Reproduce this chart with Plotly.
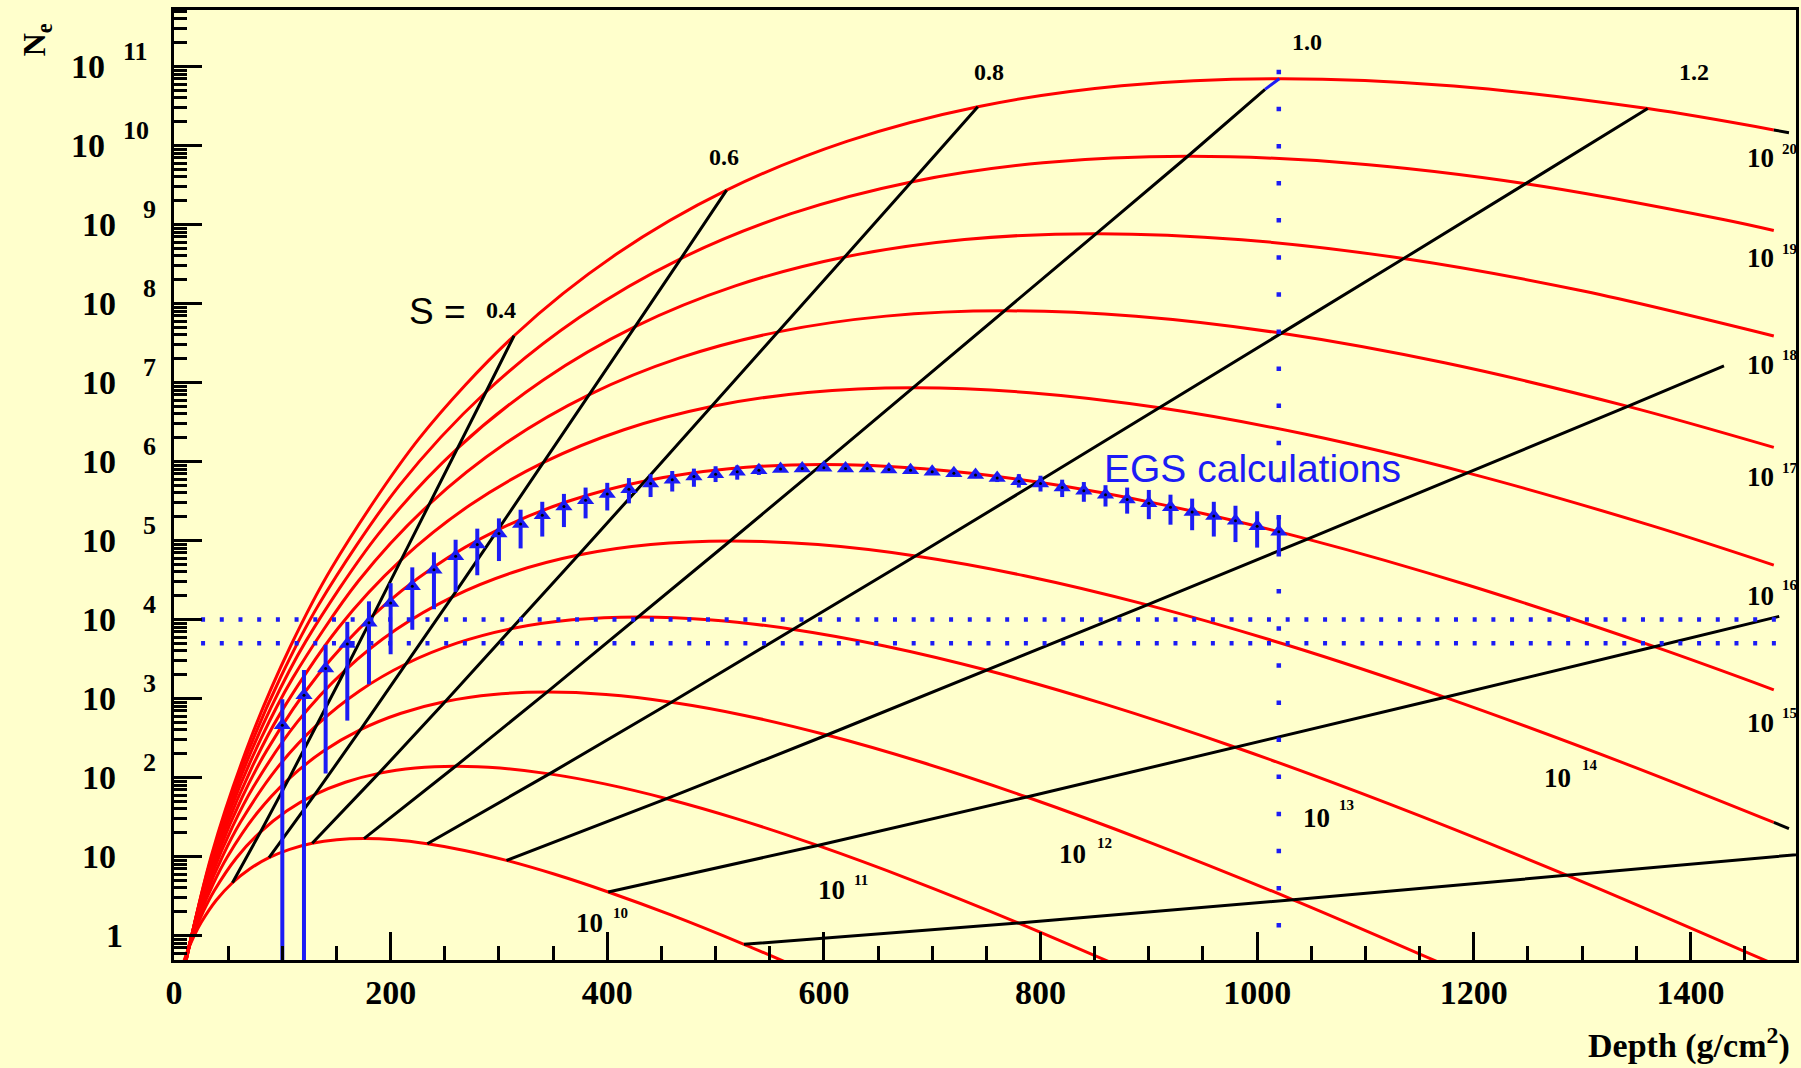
import plotly.graph_objects as go

# ---------------- data ----------------
# Shower size curves (one per primary energy): depth in g/cm^2, log10(Ne)
depth_e10 = [1.17, 5.95, 12.10, 18.46, 25.06, 38.98, 53.97, 70.16, 87.71, 106.77, 127.57, 150.35, 175.41, 203.11, 233.88, 268.27, 306.97, 350.82, 400.94, 458.77, 526.23, 605.96]
logne_e10 = [-0.738, -0.462, -0.211, -0.008, 0.164, 0.446, 0.668, 0.845, 0.985, 1.091, 1.167, 1.212, 1.227, 1.212, 1.162, 1.077, 0.951, 0.778, 0.551, 0.260, -0.112, -0.581]
depth_e11 = [1.74, 8.81, 17.93, 27.36, 37.13, 57.76, 79.98, 103.97, 129.96, 158.21, 189.03, 222.79, 259.92, 300.96, 346.56, 397.53, 454.86, 519.84, 594.10, 679.79, 779.76, 897.90]
logne_e11 = [-0.771, -0.361, 0.011, 0.311, 0.566, 0.984, 1.313, 1.576, 1.783, 1.940, 2.052, 2.119, 2.142, 2.119, 2.046, 1.919, 1.732, 1.477, 1.140, 0.708, 0.158, -0.538]
depth_e12 = [2.30, 11.68, 23.75, 36.25, 49.20, 76.54, 105.98, 137.77, 172.21, 209.65, 250.49, 295.22, 344.42, 398.80, 459.23, 526.76, 602.74, 688.84, 787.25, 900.79, 1033.26, 1189.82]
logne_e12 = [-0.779, -0.236, 0.257, 0.655, 0.993, 1.547, 1.983, 2.331, 2.605, 2.813, 2.962, 3.051, 3.081, 3.050, 2.953, 2.786, 2.538, 2.199, 1.753, 1.180, 0.452, -0.471]
depth_e13 = [2.87, 14.54, 29.58, 45.15, 61.28, 95.32, 131.98, 171.57, 214.47, 261.09, 311.95, 367.65, 428.93, 496.66, 571.91, 656.01, 750.63, 857.86, 980.41, 1121.82, 1286.79, 1481.74]
logne_e13 = [-0.774, -0.097, 0.517, 1.012, 1.433, 2.122, 2.666, 3.099, 3.440, 3.700, 3.885, 3.996, 4.033, 3.995, 3.874, 3.665, 3.357, 2.935, 2.380, 1.666, 0.759, -0.390]
depth_e14 = [3.43, 17.40, 35.41, 54.05, 73.35, 114.10, 157.98, 205.37, 256.72, 312.52, 373.40, 440.08, 513.43, 594.50, 684.57, 785.25, 898.50, 1026.86, 1173.55, 1342.82, 1477.0]
logne_e14 = [-0.760, 0.050, 0.785, 1.378, 1.882, 2.707, 3.357, 3.876, 4.284, 4.595, 4.816, 4.949, 4.994, 4.948, 4.804, 4.554, 4.185, 3.680, 3.015, 2.161, 1.432]
depth_e15 = [4.00, 20.27, 41.24, 62.94, 85.42, 132.88, 183.98, 239.18, 298.97, 363.96, 434.87, 512.52, 597.94, 692.35, 797.25, 914.50, 1046.40, 1195.88, 1366.72, 1477.0]
logne_e15 = [-0.740, 0.203, 1.059, 1.750, 2.337, 3.297, 4.055, 4.659, 5.134, 5.497, 5.754, 5.909, 5.961, 5.907, 5.740, 5.448, 5.018, 4.430, 3.656, 3.110]
depth_e16 = [4.56, 23.13, 47.07, 71.84, 97.49, 151.65, 209.98, 272.98, 341.22, 415.40, 496.32, 584.95, 682.44, 790.19, 909.92, 1043.73, 1194.27, 1364.88, 1477.0]
logne_e16 = [-0.716, 0.360, 1.337, 2.126, 2.796, 3.892, 4.757, 5.446, 5.988, 6.402, 6.696, 6.873, 6.932, 6.871, 6.680, 6.347, 5.856, 5.185, 4.689]
depth_e17 = [5.13, 26.00, 52.89, 80.73, 109.56, 170.43, 235.98, 306.78, 383.48, 466.84, 557.78, 657.39, 766.95, 888.05, 1022.60, 1172.98, 1342.16, 1477.0]
logne_e17 = [-0.689, 0.521, 1.619, 2.505, 3.258, 4.490, 5.462, 6.236, 6.846, 7.311, 7.641, 7.840, 7.907, 7.838, 7.623, 7.249, 6.698, 6.179]
depth_e18 = [5.70, 28.86, 58.72, 89.63, 121.64, 189.21, 261.98, 340.58, 425.73, 518.27, 619.24, 729.81, 851.45, 985.89, 1135.27, 1302.22, 1477.0]
logne_e18 = [-0.658, 0.685, 1.904, 2.887, 3.723, 5.091, 6.170, 7.029, 7.707, 8.223, 8.589, 8.810, 8.884, 8.807, 8.569, 8.154, 7.588]
depth_e19 = [6.26, 31.73, 64.55, 98.52, 133.71, 207.99, 287.99, 374.38, 467.98, 569.72, 680.70, 802.25, 935.96, 1083.74, 1247.95, 1431.47, 1477.0]
logne_e19 = [-0.626, 0.851, 2.190, 3.272, 4.190, 5.694, 6.880, 7.825, 8.569, 9.137, 9.539, 9.782, 9.864, 9.779, 9.517, 9.061, 8.925]
depth_e20 = [6.83, 34.59, 70.38, 107.42, 145.78, 226.77, 313.99, 408.18, 510.23, 621.15, 742.15, 874.68, 1020.46, 1181.60, 1360.61, 1477.0]
logne_e20 = [-0.592, 1.018, 2.479, 3.658, 4.659, 6.299, 7.592, 8.622, 9.434, 10.052, 10.491, 10.756, 10.845, 10.753, 10.467, 10.197]

# short black tails at the end of two curves
tail_depth_e20 = [1477.0, 1491.0]
tail_logne_e20 = [10.197, 10.162]
tail_depth_e14 = [1477.0, 1491.0]
tail_logne_e14 = [1.432, 1.353]

# Lines of constant shower age s
depth_s04 = [53.97, 79.98, 105.98, 131.98, 157.98, 183.98, 209.98, 235.98, 261.98, 287.99, 313.99]
logne_s04 = [0.668, 1.313, 1.983, 2.666, 3.357, 4.055, 4.757, 5.462, 6.170, 6.880, 7.592]
depth_s06 = [87.71, 129.96, 172.21, 214.47, 256.72, 298.97, 341.22, 383.48, 425.73, 467.98, 510.23]
logne_s06 = [0.985, 1.783, 2.605, 3.440, 4.284, 5.134, 5.988, 6.846, 7.707, 8.569, 9.434]
depth_s08 = [127.57, 189.03, 250.49, 311.95, 373.40, 434.87, 496.32, 557.78, 619.24, 680.70, 742.15]
logne_s08 = [1.167, 2.052, 2.962, 3.885, 4.816, 5.754, 6.696, 7.641, 8.589, 9.539, 10.491]
depth_s10 = [175.41, 259.92, 344.42, 428.93, 513.43, 597.94, 682.44, 766.95, 851.45, 935.96, 1007.3]
logne_s10 = [1.227, 2.142, 3.081, 4.033, 4.994, 5.961, 6.932, 7.907, 8.884, 9.864, 10.71]
depth_s10_tip = [1007.3, 1020.46]
logne_s10_tip = [10.71, 10.845]
depth_s12 = [233.88, 346.56, 459.23, 571.91, 684.57, 797.25, 909.92, 1022.60, 1135.27, 1247.95, 1360.61]
logne_s12 = [1.162, 2.046, 2.953, 3.874, 4.804, 5.740, 6.680, 7.623, 8.569, 9.517, 10.467]
depth_s14 = [306.97, 454.86, 602.74, 750.63, 898.50, 1046.40, 1194.27, 1342.16, 1431.0]
logne_s14 = [0.951, 1.732, 2.538, 3.357, 4.185, 5.018, 5.856, 6.698, 7.21]
depth_s16 = [400.94, 594.10, 787.25, 980.41, 1173.55, 1366.72, 1482.0]
logne_s16 = [0.551, 1.140, 1.753, 2.380, 3.015, 3.656, 4.04]
depth_s18 = [526.23, 779.76, 1033.26, 1286.79, 1540.29]
logne_s18 = [-0.112, 0.158, 0.452, 0.759, 1.075]

# EGS calculations (depth, log10 Ne, upper and lower ends of the error bars)
egs_depth = [100, 120, 140, 160, 180, 200, 220, 240, 260, 280, 300, 320, 340, 360, 380, 400,
             420, 440, 460, 480, 500, 520, 540, 560, 580, 600, 620, 640, 660, 680, 700, 720,
             740, 760, 780, 800, 820, 840, 860, 880, 900, 920, 940, 960, 980, 1000, 1020]
egs_logne = [2.66, 3.04, 3.38, 3.69, 3.96, 4.21, 4.42, 4.63, 4.80, 4.95, 5.09, 5.21, 5.32, 5.43, 5.51, 5.59,
             5.65, 5.72, 5.77, 5.81, 5.84, 5.87, 5.89, 5.905, 5.91, 5.92, 5.91, 5.91, 5.90, 5.89, 5.87, 5.85,
             5.83, 5.79, 5.75, 5.72, 5.67, 5.63, 5.58, 5.52, 5.47, 5.42, 5.36, 5.31, 5.25, 5.18, 5.11]
egs_logne_hi = [2.99, 3.36, 3.68, 3.97, 4.23, 4.46, 4.66, 4.85, 5.01, 5.15, 5.28, 5.39, 5.49, 5.59, 5.67, 5.73,
                5.79, 5.84, 5.88, 5.91, 5.94, 5.95, 5.96, 5.95, 5.94, 5.94, 5.93, 5.93, 5.92, 5.91, 5.895, 5.88,
                5.87, 5.84, 5.84, 5.82, 5.77, 5.74, 5.70, 5.67, 5.64, 5.58, 5.53, 5.49, 5.44, 5.37, 5.31]
egs_logne_lo = [-1.3, -1.3, 2.05, 2.72, 3.18, 3.56, 3.87, 4.13, 4.35, 4.56, 4.74, 4.90, 5.05, 5.17, 5.28, 5.38,
                5.47, 5.55, 5.62, 5.68, 5.74, 5.77, 5.83, 5.87, 5.89, 5.90, 5.89, 5.89, 5.88, 5.87, 5.845, 5.82,
                5.79, 5.74, 5.67, 5.62, 5.55, 5.49, 5.43, 5.34, 5.27, 5.20, 5.13, 5.05, 4.98, 4.91, 4.84]

# dotted reference lines
ref_ne_levels = [1e4, 5e3]
ref_level_depth = [25, 1482]
ref_depth = 1020
ref_depth_ne = [9.1e10, 1.23]

# axes / labels
xtick_values = [0, 200, 400, 600, 800, 1000, 1200, 1400]
ytick_powers = [0, 1, 2, 3, 4, 5, 6, 7, 8, 9, 10, 11]
energy_powers = [10, 11, 12, 13, 14, 15, 16, 17, 18, 19, 20]
age_labels = ["0.4", "0.6", "0.8", "1.0", "1.2"]

# ---------------- styling / layout ----------------
BG = "#FFFFCC"
BLUE = "#1c1cf5"
SERIF = "Liberation Serif"
SANS = "Liberation Sans"
FIG_W, FIG_H = 1801, 1068
PL, PT, PW, PH = 174, 10, 1625, 950


def px(x):
    return (x - PL) / PW


def py(y):
    return 1 - (y - PT) / PH


def ne(vals):
    return [10 ** v for v in vals]


fig = go.Figure()

curves = [(depth_e10, logne_e10), (depth_e11, logne_e11), (depth_e12, logne_e12),
          (depth_e13, logne_e13), (depth_e14, logne_e14), (depth_e15, logne_e15),
          (depth_e16, logne_e16), (depth_e17, logne_e17), (depth_e18, logne_e18),
          (depth_e19, logne_e19), (depth_e20, logne_e20)]
for d, l in curves:
    fig.add_trace(go.Scatter(x=d, y=ne(l), mode="lines",
                             line=dict(color="#ff0000", width=3, shape="spline", smoothing=0.9),
                             hoverinfo="skip"))

age_lines = [(depth_s04, logne_s04), (depth_s06, logne_s06), (depth_s08, logne_s08),
             (depth_s10, logne_s10), (depth_s12, logne_s12), (depth_s14, logne_s14),
             (depth_s16, logne_s16), (depth_s18, logne_s18),
             (tail_depth_e20, tail_logne_e20), (tail_depth_e14, tail_logne_e14)]
for d, l in age_lines:
    fig.add_trace(go.Scatter(x=d, y=ne(l), mode="lines",
                             line=dict(color="black", width=3), hoverinfo="skip"))
fig.add_trace(go.Scatter(x=depth_s10_tip, y=ne(logne_s10_tip), mode="lines",
                         line=dict(color=BLUE, width=3), hoverinfo="skip"))

for lev in ref_ne_levels:
    fig.add_trace(go.Scatter(x=ref_level_depth, y=[lev, lev], mode="lines",
                             line=dict(color=BLUE, width=4.5, dash="4px,14.7px"),
                             hoverinfo="skip"))
fig.add_trace(go.Scatter(x=[ref_depth, ref_depth], y=ref_depth_ne, mode="lines",
                         line=dict(color=BLUE, width=4.5, dash="4.5px,32.6px"),
                         hoverinfo="skip"))

egs_y = ne(egs_logne)
err_hi = [10 ** h - 10 ** m for h, m in zip(egs_logne_hi, egs_logne)]
err_lo = [10 ** m - 10 ** lo for m, lo in zip(egs_logne, egs_logne_lo)]
fig.add_trace(go.Scatter(x=egs_depth, y=egs_y, mode="markers",
                         marker=dict(symbol="triangle-up", size=15, color=BLUE),
                         error_y=dict(type="data", symmetric=False, array=err_hi,
                                      arrayminus=err_lo, color=BLUE, thickness=4, width=0),
                         hoverinfo="skip"))
fig.add_trace(go.Scatter(x=egs_depth, y=egs_y, mode="markers",
                         marker=dict(size=3, color="black"), hoverinfo="skip"))

ann = []
bold_serif = lambda s: dict(family=SERIF, size=s, color="black", weight="bold")

# y tick labels
for k in ytick_powers:
    if k == 0:
        ann.append(dict(x=px(125), y=k, xref="paper", yref="y", text="1", showarrow=False,
                        xanchor="right", yanchor="middle", font=bold_serif(34)))
        continue
    right = 107 if k >= 10 else 118
    ann.append(dict(x=px(right), y=k, xref="paper", yref="y", text="10", showarrow=False,
                    xanchor="right", yanchor="middle", font=bold_serif(34)))
    if k >= 2:
        left = 121 if k >= 10 else 141
        ann.append(dict(x=px(left), y=k + 0.196, xref="paper", yref="y", text=str(k),
                        showarrow=False, xanchor="left", yanchor="middle", font=bold_serif(26)))

# energy labels
energy_label_pos = [(574.3, 923.3, 611.8, 913.3), (816.7, 889.5, 853.4, 880), (1059, 853.7, 1097, 843),
                    (1302.6, 817.6, 1339, 805), (1545, 777.6, 1583, 765), (1748, 722.5, 1783, 712.5),
                    (1748, 595.8, 1783, 585.3), (1748, 476.7, 1783, 467.5), (1748, 365, 1783, 355),
                    (1748, 258.3, 1783, 249), (1748, 157.8, 1783, 148.7)]
for p, (bx, by, ex, ey) in zip(energy_powers, energy_label_pos):
    ann.append(dict(x=px(bx), y=py(by), xref="paper", yref="paper", text="10", showarrow=False,
                    xanchor="left", yanchor="middle", font=bold_serif(27)))
    ann.append(dict(x=px(ex), y=py(ey), xref="paper", yref="paper", text=str(p), showarrow=False,
                    xanchor="left", yanchor="middle", font=bold_serif(15)))

# age labels
age_label_pos = [(501.3, 310), (724.8, 157.4), (990.4, 72.5), (1309, 41.7), (1696.5, 72.5)]
for t, (ax, ay) in zip(age_labels, age_label_pos):
    ann.append(dict(x=px(ax), y=py(ay), xref="paper", yref="paper", text=t, showarrow=False,
                    xanchor="center", yanchor="middle", font=bold_serif(24)))
ann.append(dict(x=px(407), y=py(311.5), xref="paper", yref="paper", text="S =", showarrow=False,
                xanchor="left", yanchor="middle", font=dict(family=SANS, size=37, color="black")))

ann.append(dict(x=px(1104), y=py(468.3), xref="paper", yref="paper", text="EGS calculations",
                showarrow=False, xanchor="left", yanchor="middle",
                font=dict(family=SANS, size=39, color=BLUE)))

ann.append(dict(x=px(1795), y=py(1043), xref="paper", yref="paper", text="Depth (g/cm<sup>2</sup>)",
                showarrow=False, xanchor="right", yanchor="middle", font=bold_serif(34)))
ann.append(dict(x=px(37), y=py(40), xref="paper", yref="paper", text="N<sub>e</sub>",
                showarrow=False, xanchor="center", yanchor="middle", textangle=-90,
                font=bold_serif(32)))

minor_y = [m * 10 ** k for k in range(-1, 12) for m in range(2, 10)]

fig.update_layout(
    width=FIG_W, height=FIG_H,
    margin=dict(l=PL, r=FIG_W - PL - PW, t=PT, b=FIG_H - PT - PH, pad=0),
    paper_bgcolor=BG, plot_bgcolor=BG,
    showlegend=False,
    annotations=ann,
    xaxis=dict(range=[0, 1497.5], showline=True, linewidth=3, linecolor="black", mirror=True,
               ticks="inside", ticklen=28, tickwidth=2.5, tickcolor="black",
               tickmode="array", tickvals=xtick_values,
               tickfont=bold_serif(34), ticklabelstandoff=0,
               minor=dict(ticks="inside", ticklen=14, tickwidth=2.5, tickcolor="black",
                          dtick=50, tick0=0, showgrid=False),
               showgrid=False, zeroline=False),
    yaxis=dict(type="log", range=[-0.31, 11.715], showline=True, linewidth=3, linecolor="black",
               mirror=True, ticks="inside", ticklen=28, tickwidth=2.5, tickcolor="black",
               tickmode="array", tickvals=[10 ** k for k in ytick_powers], showticklabels=False,
               minor=dict(ticks="inside", ticklen=13, tickwidth=2.5, tickcolor="black",
                          tickmode="array", tickvals=minor_y, showgrid=False),
               showgrid=False, zeroline=False),
)

fig.write_html("out.html", config={"displayModeBar": False},
               post_script="document.body.style.margin='0px';document.body.style.overflow='hidden';")
